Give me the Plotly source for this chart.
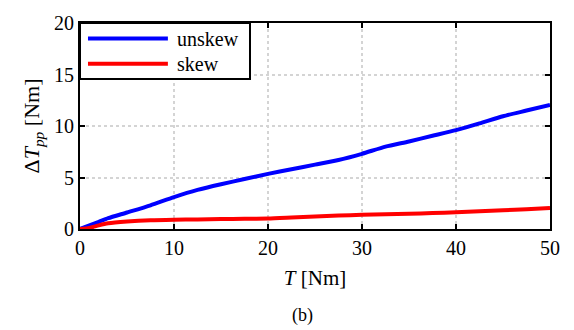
import plotly.graph_objects as go

T = [0, 1, 2, 3, 5, 7.5, 10, 12.5, 15, 17.5, 20, 22.5, 25, 27.5, 30, 32.5, 35, 37.5, 40, 42.5, 45, 47.5, 50]
unskew = [0, 0.35, 0.7, 1.05, 1.6, 2.3, 3.1, 3.8, 4.35, 4.85, 5.35, 5.8, 6.25, 6.7, 7.3, 8.0, 8.5, 9.05, 9.6, 10.25, 10.95, 11.5, 12.05]
skew = [0, 0.1, 0.35, 0.55, 0.72, 0.85, 0.9, 0.93, 0.96, 0.99, 1.02, 1.12, 1.22, 1.3, 1.38, 1.44, 1.48, 1.55, 1.63, 1.72, 1.82, 1.92, 2.05]
series_names = ["unskew", "skew"]
series_colors = ["#0000ff", "#ff0000"]
x_ticks = [0, 10, 20, 30, 40, 50]
y_ticks = [0, 5, 10, 15, 20]

FONT = "Liberation Serif, Times New Roman, serif"

fig = go.Figure()
for name, ys, col in zip(series_names, [unskew, skew], series_colors):
    fig.add_trace(go.Scatter(x=T, y=ys, mode="lines", name=name,
                             line=dict(color=col, width=4, shape="spline", smoothing=0.6),
                             showlegend=False))

axis_common = dict(
    showline=True, linecolor="black", linewidth=2, mirror="ticks",
    ticks="inside", ticklen=5, tickwidth=2, tickcolor="black",
    showgrid=True, gridcolor="#d4d4d4", gridwidth=1.5, griddash="dot",
    zeroline=False, tickfont=dict(family=FONT, size=20, color="black"),
)

fig.update_layout(
    width=574, height=330,
    margin=dict(l=80, r=24, t=13, b=101),
    plot_bgcolor="white", paper_bgcolor="white",
    font=dict(family=FONT, color="black"),
    xaxis=dict(range=[0, 50], tickvals=x_ticks, **axis_common,
               title=dict(text="<i>T</i> [Nm]", font=dict(family=FONT, size=21), standoff=12)),
    yaxis=dict(range=[0, 20], tickvals=y_ticks, **axis_common,
               title=dict(text="Δ<i>T</i><sub><i>pp</i></sub> [Nm]", font=dict(family=FONT, size=22), standoff=8)),
)

# legend drawn manually (long line samples as in the reference)
fig.add_shape(type="rect", xref="paper", yref="paper", x0=0, x1=0.3617, y0=0.728, y1=1,
              line=dict(color="black", width=2), fillcolor="white", layer="above")
leg_y = [0.9245, 0.802]
for name, col, yy in zip(series_names, series_colors, leg_y):
    fig.add_shape(type="line", xref="paper", yref="paper", x0=0.017, x1=0.187, y0=yy, y1=yy,
                  line=dict(color=col, width=4), layer="above")
    fig.add_annotation(xref="paper", yref="paper", x=0.202, y=yy, text=name, showarrow=False,
                       xanchor="left", yanchor="middle", font=dict(family=FONT, size=20, color="black"))

fig.add_annotation(xref="paper", yref="paper", x=0.474, y=-0.418, text="(b)", showarrow=False,
                   xanchor="center", yanchor="middle", font=dict(family=FONT, size=18, color="black"))

fig.write_html("out.html")
